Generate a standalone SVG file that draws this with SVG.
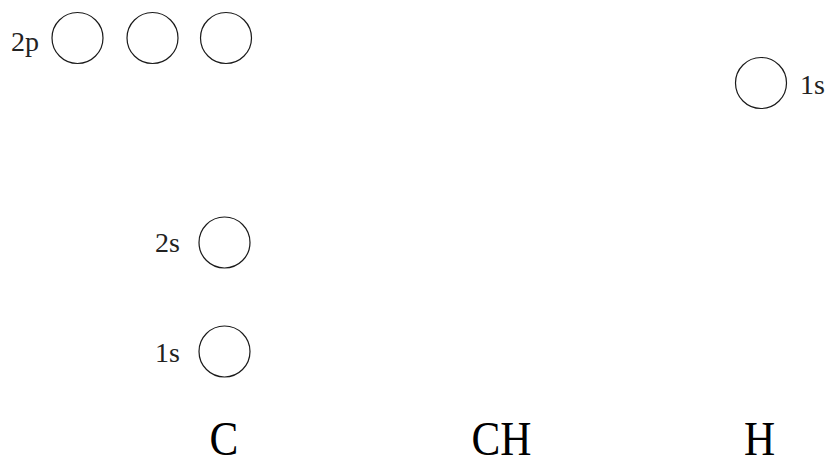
<svg xmlns="http://www.w3.org/2000/svg" width="828" height="457" viewBox="0 0 828 457">
  <style>
    .orb { fill: none; stroke: #1a1a1a; stroke-width: 1.2; }
    .lbl { font-family: "Liberation Serif", "DejaVu Serif", serif; font-size: 28px; fill: #222; }
    .atom { font-family: "Liberation Serif", "DejaVu Serif", serif; font-size: 48px; fill: #000; }
  </style>
  <rect width="828" height="457" fill="#fff"/>
  <g id="C-2p">
    <text class="lbl" x="11" y="51">2p</text>
    <circle class="orb" cx="77.5" cy="38" r="25.5"/>
    <circle class="orb" cx="152.5" cy="38" r="25.5"/>
    <circle class="orb" cx="226" cy="38" r="25.5"/>
  </g>
  <g id="C-2s">
    <text class="lbl" x="155" y="252">2s</text>
    <circle class="orb" cx="224.5" cy="242.5" r="25.5"/>
  </g>
  <g id="C-1s">
    <text class="lbl" x="155" y="362">1s</text>
    <circle class="orb" cx="224.5" cy="351.5" r="25.5"/>
  </g>
  <g id="H-1s">
    <circle class="orb" cx="761" cy="83" r="25.5"/>
    <text class="lbl" x="800" y="94">1s</text>
  </g>
  <g id="labels">
    <text class="atom" transform="translate(209.5,455) scale(0.9,1)">C</text>
    <text class="atom" transform="translate(471.5,455) scale(0.9,1)">CH</text>
    <text class="atom" transform="translate(744,455) scale(0.9,1)">H</text>
  </g>
  <g id="connectors"/>
</svg>
